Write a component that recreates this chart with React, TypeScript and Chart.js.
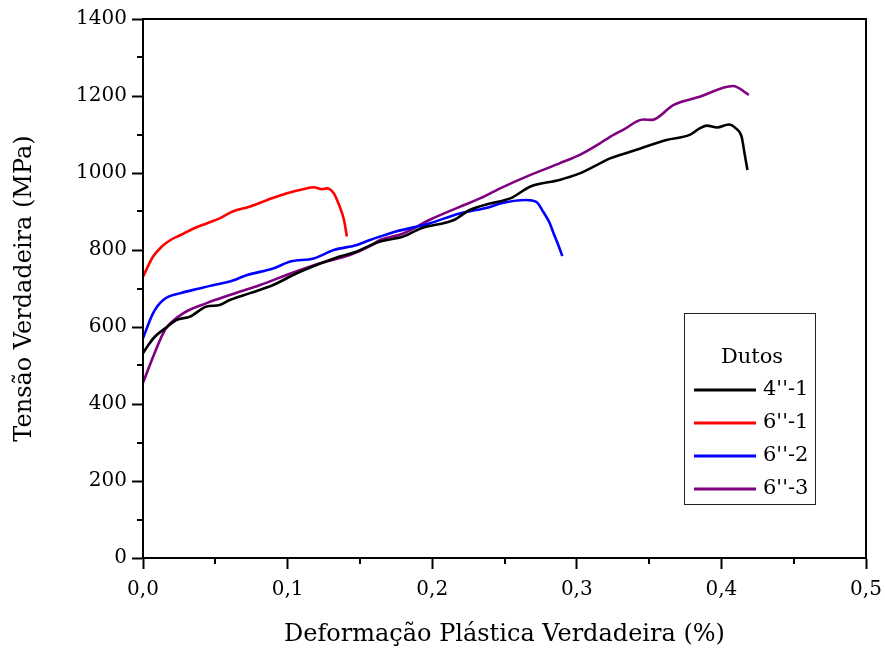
import React, { useEffect, useRef } from 'react';
import { Chart, registerables } from 'chart.js';

Chart.register(...registerables);

const FONT_FAMILY = "'DejaVu Serif', serif";

// Series labels and colours
const seriesLabels = ["4''-1", "6''-1", "6''-2", "6''-3"];
const seriesColors = ['#000000', '#ff0000', '#0000ff', '#800080'];
const legendTitle = 'Dutos';

// 4''-1 (black)
const s41X = [0, 0.0035, 0.008, 0.0166, 0.023, 0.0325, 0.044, 0.053, 0.06, 0.074, 0.09, 0.106, 0.12, 0.136, 0.148, 0.157, 0.164, 0.18, 0.192, 0.215, 0.226, 0.24, 0.254, 0.268, 0.288, 0.302, 0.316, 0.323, 0.337, 0.362, 0.378, 0.385, 0.39, 0.397, 0.405, 0.41, 0.414, 0.416, 0.418];
const s41Y = [532, 552, 574, 600, 618, 627, 653, 657, 670, 688, 709, 739, 761, 783, 796, 812, 822, 835, 856, 878, 904, 921, 934, 965, 982, 999, 1025, 1038, 1055, 1086, 1099, 1116, 1123, 1118, 1126, 1116, 1094, 1051, 1008];

// 6''-1 (red)
const s61X = [0, 0.007, 0.013, 0.019, 0.026, 0.035, 0.044, 0.053, 0.062, 0.074, 0.086, 0.099, 0.113, 0.118, 0.124, 0.127, 0.132, 0.136, 0.139, 0.141];
const s61Y = [731, 783, 809, 826, 839, 856, 869, 882, 900, 913, 930, 947, 960, 963, 958, 960, 947, 913, 878, 835];

// 6''-2 (blue)
const s62X = [0, 0.007, 0.014, 0.026, 0.039, 0.049, 0.06, 0.072, 0.09, 0.102, 0.118, 0.132, 0.148, 0.157, 0.164, 0.175, 0.198, 0.219, 0.24, 0.247, 0.265, 0.272, 0.277, 0.281, 0.284, 0.287, 0.29];
const s62Y = [571, 636, 670, 688, 700, 709, 718, 735, 752, 770, 778, 800, 813, 826, 835, 848, 869, 895, 912, 921, 930, 925, 898, 872, 843, 815, 784];

// 6''-3 (purple)
const s63X = [0, 0.007, 0.014, 0.0166, 0.028, 0.044, 0.06, 0.081, 0.102, 0.122, 0.143, 0.157, 0.164, 0.18, 0.198, 0.219, 0.233, 0.247, 0.268, 0.288, 0.302, 0.316, 0.323, 0.332, 0.346, 0.352, 0.367, 0.385, 0.408, 0.419];
const s63Y = [455, 523, 584, 600, 636, 662, 683, 709, 739, 765, 787, 810, 826, 843, 878, 912, 934, 960, 995, 1025, 1047, 1077, 1094, 1112, 1139, 1138, 1177, 1198, 1226, 1203];

const xMin = 0, xMax = 0.5, xStep = 0.1;
const yMin = 0, yMax = 1400, yStep = 200;
const xMinorTicks = [0.05, 0.15, 0.25, 0.35, 0.45];
const yMinorTicks = [100, 300, 500, 700, 900, 1100, 1300];
const xTitle = 'Deformação Plástica Verdadeira (%)';
const yTitle = 'Tensão Verdadeira (MPa)';

const zip = (xs: number[], ys: number[]) => xs.map((x, i) => ({ x, y: ys[i] }));

const frameAndMinorPlugin = {
  id: 'frameAndMinor',
  afterDraw(chart: any) {
    const { ctx, chartArea } = chart;
    const xs = chart.scales.x;
    const ys = chart.scales.y;
    ctx.save();
    ctx.strokeStyle = '#000';
    ctx.lineWidth = 2;
    ctx.strokeRect(chartArea.left, chartArea.top, chartArea.right - chartArea.left, chartArea.bottom - chartArea.top);
    ctx.beginPath();
    for (const v of xMinorTicks) {
      const px = Math.round(xs.getPixelForValue(v));
      ctx.moveTo(px, chartArea.bottom);
      ctx.lineTo(px, chartArea.bottom + 6);
    }
    for (const v of yMinorTicks) {
      const py = Math.round(ys.getPixelForValue(v));
      ctx.moveTo(chartArea.left, py);
      ctx.lineTo(chartArea.left - 6, py);
    }
    ctx.stroke();

    // Legend box
    const boxW = 131, boxH = 191;
    const bx = chartArea.right - 51 - boxW;
    const by = chartArea.bottom - 54 - boxH;
    ctx.lineWidth = 1;
    ctx.strokeStyle = '#222';
    ctx.fillStyle = '#fff';
    ctx.fillRect(bx, by, boxW, boxH);
    ctx.strokeRect(bx + 0.5, by + 0.5, boxW, boxH);
    ctx.fillStyle = '#000';
    ctx.font = `21px ${FONT_FAMILY}`;
    ctx.textAlign = 'center';
    ctx.textBaseline = 'middle';
    ctx.fillText(legendTitle, bx + 68, by + 45);
    ctx.textAlign = 'left';
    chart.data.datasets.forEach((ds: any, i: number) => {
      const cy = by + 77 + i * 33;
      ctx.strokeStyle = ds.borderColor;
      ctx.lineWidth = 3;
      ctx.beginPath();
      ctx.moveTo(bx + 10, cy);
      ctx.lineTo(bx + 72, cy);
      ctx.stroke();
      ctx.fillStyle = '#000';
      ctx.fillText(ds.label, bx + 79, cy);
    });
    ctx.restore();
  },
};

export default function App() {
  const canvasRef = useRef<HTMLCanvasElement | null>(null);

  useEffect(() => {
    document.body.style.margin = '0';
    const canvas = canvasRef.current;
    if (!canvas) return;
    const series = [zip(s41X, s41Y), zip(s61X, s61Y), zip(s62X, s62Y), zip(s63X, s63Y)];
    const chart = new Chart(canvas, {
      type: 'line',
      data: {
        datasets: series.map((d, i) => ({
          label: seriesLabels[i],
          data: d,
          borderColor: seriesColors[i],
          backgroundColor: seriesColors[i],
          borderWidth: 2.6,
          pointRadius: 0,
          cubicInterpolationMode: 'monotone',
          fill: false,
        })),
      },
      options: {
        responsive: false,
        animation: false,
        devicePixelRatio: 1,
        layout: { padding: { top: 19, right: 19, left: 0, bottom: 0 } },
        plugins: { legend: { display: false }, tooltip: { enabled: false } },
        scales: {
          x: {
            type: 'linear',
            min: xMin,
            max: xMax,
            afterFit: (s: any) => {
              s.height = 93;
              s.paddingLeft = 0;
              s.paddingRight = 0;
            },
            ticks: {
              stepSize: xStep,
              color: '#000',
              padding: 9,
              font: { family: FONT_FAMILY, size: 20 },
              callback: (v: any) => Number(v).toFixed(1).replace('.', ','),
            },
            grid: { drawOnChartArea: false, tickLength: 11, tickWidth: 2, tickColor: '#000' },
            border: { color: '#000', width: 2 },
            title: {
              display: true,
              text: xTitle,
              color: '#000',
              font: { family: FONT_FAMILY, size: 24 },
              padding: { top: 0, bottom: 2 },
            },
          },
          y: {
            type: 'linear',
            min: yMin,
            max: yMax,
            afterFit: (s: any) => {
              s.width = 143;
              s.paddingTop = 0;
              s.paddingBottom = 0;
            },
            ticks: {
              stepSize: yStep,
              color: '#000',
              padding: 5,
              font: { family: FONT_FAMILY, size: 20 },
              callback: (v: any) => String(Math.round(Number(v))),
            },
            grid: { drawOnChartArea: false, tickLength: 11, tickWidth: 2, tickColor: '#000' },
            border: { color: '#000', width: 2 },
            title: {
              display: true,
              text: yTitle,
              color: '#000',
              font: { family: FONT_FAMILY, size: 24 },
              padding: { top: 10, bottom: 0 },
            },
          },
        },
      },
      plugins: [frameAndMinorPlugin],
    });
    return () => chart.destroy();
  }, []);

  return <canvas ref={canvasRef} width={885} height={651} style={{ display: 'block' }} />;
}
